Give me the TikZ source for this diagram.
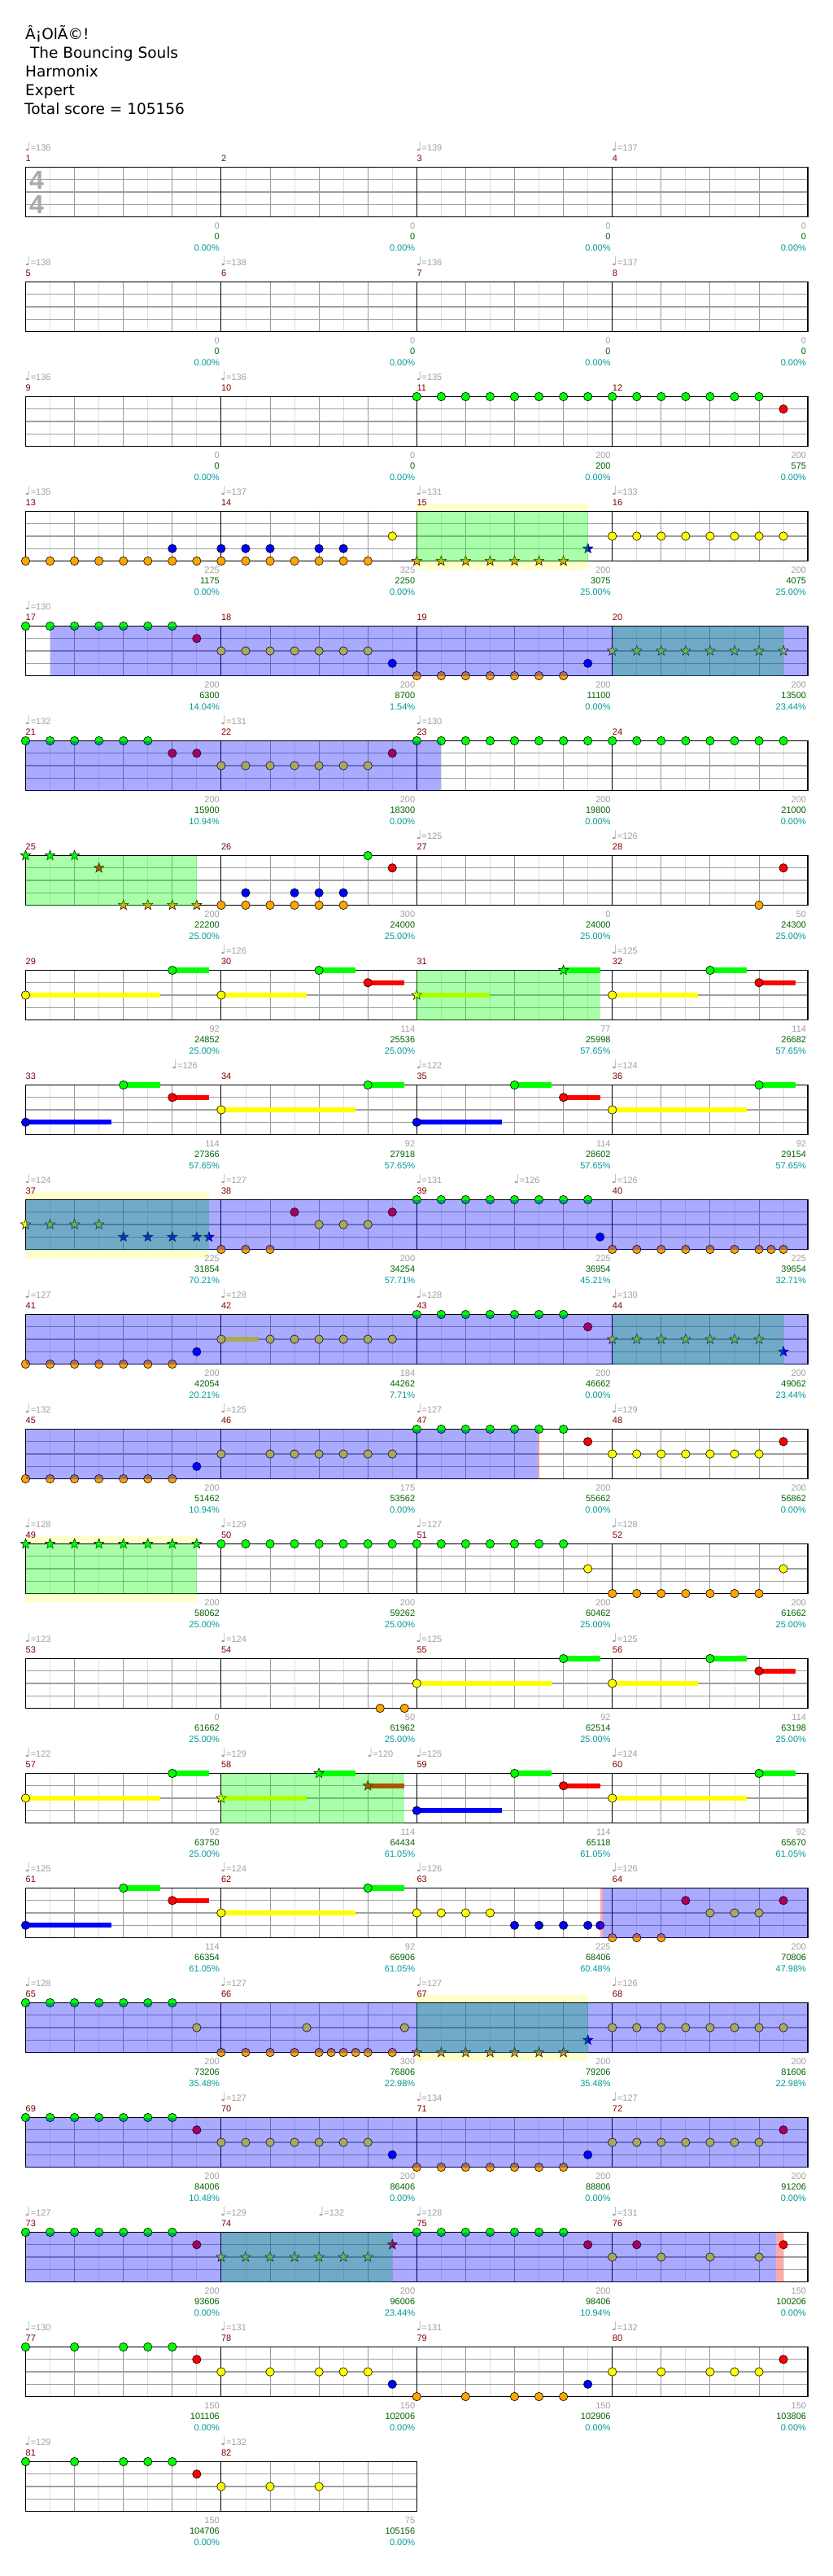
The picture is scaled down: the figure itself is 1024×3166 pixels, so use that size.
\documentclass[tikz,border=0pt]{standalone}
\usepackage{fontspec}
\setmainfont{Liberation Sans}
\newfontfamily\titlefont{DejaVu Sans}
\newfontfamily\notefont{DejaVu Sans}
\usepackage{xcolor}
\definecolor{cG}{HTML}{00FF00}
\definecolor{cR}{HTML}{FF0000}
\definecolor{cY}{HTML}{FFFF00}
\definecolor{cB}{HTML}{0000FF}
\definecolor{cO}{HTML}{FFA500}
\colorlet{lane0}{cG}
\colorlet{lane1}{cR}
\colorlet{lane2}{cY}
\colorlet{lane3}{cB}
\colorlet{lane4}{cO}
\definecolor{cSP}{HTML}{0000FF}
\definecolor{cPh}{HTML}{00FF00}
\definecolor{cEnd}{HTML}{FF0000}
\definecolor{cBand}{HTML}{FFFFCC}
\definecolor{cEighth}{HTML}{DDDDDD}
\definecolor{cBeat}{HTML}{999999}
\definecolor{cLane}{HTML}{A0A0A0}
\definecolor{cSig}{HTML}{AAAAAA}
\definecolor{cTempo}{HTML}{A0A0A0}
\definecolor{cBarNum}{HTML}{800000}
\definecolor{cCount}{HTML}{A0A0A0}
\definecolor{cScore}{HTML}{006400}
\definecolor{cPct}{HTML}{009999}
\usepackage{tikz}
\usetikzlibrary{shapes.geometric}
\tikzset{
  notehead/.style={circle,draw=black,line width=.6pt,inner sep=0pt,minimum size=10.4pt},
  starnote/.style={star,star points=5,star point ratio=2.4,draw=black,line width=.5pt,
    inner sep=0pt,minimum size=13pt},
  grid-eighth/.style={draw=cEighth,line width=.8pt},
  grid-beat/.style={draw=cBeat,line width=.9pt},
  grid-lane/.style={draw=cLane,line width=1.2pt},
  grid-bar/.style={draw=black,line width=.9pt},
  staff-frame/.style={draw=black,line width=1.6pt},
  sp-zone/.style={fill=cSP,fill opacity=.333},
  ph-zone/.style={fill=cPh,fill opacity=.333},
  red-zone/.style={fill=cEnd,fill opacity=.333},
  ph-band/.style={fill=cBand},
  lbl/.style={inner sep=0pt,font=\fontsize{11}{13}\selectfont},
  title-lbl/.style={inner sep=0pt,anchor=base west,font=\titlefont\fontsize{18.5}{23}\selectfont},
  tempo-lbl/.style={lbl,anchor=base west,text=cTempo},
  bar-num/.style={lbl,anchor=base west,text=cBarNum},
  count-lbl/.style={lbl,anchor=base east,text=cCount},
  score-lbl/.style={lbl,anchor=base east,text=cScore},
  pct-lbl/.style={lbl,anchor=base east,text=cPct},
  time-sig/.style={inner sep=0pt,anchor=base west,text=cSig,font=\bfseries\fontsize{32}{32}\selectfont},
}
% row r: staff top; eighth t: x position (one bar = 8 eighths = 240.4)
\newcommand\rowtop[1]{(205.5+(#1-1)*141)}
\newcommand\xe[1]{(31.5+(#1)*30.05)}
\newcommand\drawstaff[2]{%
  \pgfmathsetmacro\Yt{\rowtop{#1}}%
  \pgfmathsetmacro\Xe{\xe{#2*8}}%
  \pgfmathtruncatemacro\Ne{#2*8-1}%
  \pgfmathtruncatemacro\Nb{#2*8-2}%
  \pgfmathtruncatemacro\Nm{#2-1}%
  \fill[white] (31.5,\Yt) rectangle (\Xe,\Yt+61);
  \foreach \e in {1,3,...,\Ne} \draw[grid-eighth] ({\xe{\e}},\Yt) -- ++(0,61);
  \foreach \b in {2,4,...,\Nb} \draw[grid-beat] ({\xe{\b}},\Yt) -- ++(0,61);
  \foreach \l in {1,2,3} \draw[grid-lane] (31.5,{\Yt+\l*15.25}) -- (\Xe,{\Yt+\l*15.25});
  \foreach \mm in {1,...,\Nm} \draw[grid-bar] ({\xe{\mm*8}},\Yt) -- ++(0,61);
  \draw[staff-frame] (31.5,\Yt) rectangle (\Xe,\Yt+61);}
\newcommand\lanenotes[3]{%
  \foreach \t [count=\k] in {#3}
    \node[notehead,fill=lane#2] (n#1-#2-\k) at ({\xe{\t}},{\rowtop{#1}+#2*15.25}) {};}
\newcommand\lanestars[3]{%
  \foreach \t [count=\k] in {#3}
    \node[starnote,fill=lane#2] (s#1-#2-\k) at ({\xe{\t}},{\rowtop{#1}+#2*15.25}) {};}
\newcommand\holdbar[4]{%
  \fill[lane#2] ({\xe{#3}},{\rowtop{#1}+#2*15.25-3.2}) rectangle ({\xe{#4}},{\rowtop{#1}+#2*15.25+3.2});}
\newcommand\spzone[3]{\fill[sp-zone] ({\xe{#2}},{\rowtop{#1}}) rectangle ({\xe{#3}},{\rowtop{#1}+61});}
\newcommand\phzone[3]{\fill[ph-zone] ({\xe{#2}},{\rowtop{#1}}) rectangle ({\xe{#3}},{\rowtop{#1}+61});}
\newcommand\redzone[3]{\fill[red-zone] ({\xe{#2}},{\rowtop{#1}}) rectangle ({\xe{#3}},{\rowtop{#1}+61});}
\newcommand\phband[3]{\fill[ph-band] ({\xe{#2}},{\rowtop{#1}-10}) rectangle ({\xe{#3}},{\rowtop{#1}+71});}

\begin{document}
\begin{tikzpicture}[x=1pt,y=-1pt]
  \useasboundingbox[fill=white] (0,0) rectangle (1024,3166);
  % header
  \node[title-lbl] (ttl-song)   at (31,48.3)  {Â¡OlÃ©!};
  \node[title-lbl] (ttl-band)   at (31,71.7)  {\ The Bouncing Souls};
  \node[title-lbl] (ttl-author) at (31,95)    {Harmonix};
  \node[title-lbl] (ttl-level)  at (31,117.3) {Expert};
  \node[title-lbl] (ttl-score)  at (30,140.7) {Total score = 105156};

  % rows 1-3
  \drawstaff{1}{4}
  \node[time-sig] (sig-top) at (36,{\rowtop{1}+27.2}) {4};
  \node[time-sig] (sig-bot) at (36,{\rowtop{1}+57.2}) {4};
  \drawstaff{2}{4}
  \drawstaff{3}{4}
  \lanenotes{3}{0}{16,...,30}
  \lanenotes{3}{1}{31}

  % row 4
  \phband{4}{16}{23}
  \drawstaff{4}{4}
  \lanenotes{4}{4}{0,...,14}
  \lanenotes{4}{3}{6,8,9,10,12,13}
  \lanenotes{4}{2}{15,24,25,26,27,28,29,30,31}
  \lanestars{4}{4}{16,...,22}
  \lanestars{4}{3}{23}
  \phzone{4}{16}{23}

  % row 5
  \drawstaff{5}{4}
  \lanenotes{5}{0}{0,...,6}
  \lanenotes{5}{1}{7}
  \lanenotes{5}{2}{8,...,14}
  \lanenotes{5}{3}{15,23}
  \lanenotes{5}{4}{16,...,22}
  \lanestars{5}{2}{24,...,31}
  \phzone{5}{24}{31}
  \spzone{5}{1}{32}

  % row 6
  \drawstaff{6}{4}
  \lanenotes{6}{0}{0,1,2,3,4,5,16,17,18,19,20,21,22,23,24,25,26,27,28,29,30,31}
  \lanenotes{6}{1}{6,7,15}
  \lanenotes{6}{2}{8,...,14}
  \spzone{6}{0}{17}

  % row 7
  \drawstaff{7}{4}
  \lanestars{7}{0}{0,1,2}
  \lanestars{7}{1}{3}
  \lanestars{7}{4}{4,5,6,7}
  \lanenotes{7}{4}{8,9,10,11,12,13,30}
  \lanenotes{7}{3}{9,11,12,13}
  \lanenotes{7}{0}{14}
  \lanenotes{7}{1}{15,31}
  \phzone{7}{0}{7}

  % row 8
  \drawstaff{8}{4}
  \holdbar{8}{2}{0}{5.5}   \holdbar{8}{0}{6}{7.5}
  \holdbar{8}{2}{8}{11.5}  \holdbar{8}{0}{12}{13.5}
  \holdbar{8}{1}{14}{15.5} \holdbar{8}{2}{16}{19}
  \holdbar{8}{0}{22}{23.5} \holdbar{8}{2}{24}{27.5}
  \holdbar{8}{0}{28}{29.5} \holdbar{8}{1}{30}{31.5}
  \lanenotes{8}{2}{0,8,24}
  \lanenotes{8}{0}{6,12,28}
  \lanenotes{8}{1}{14,30}
  \lanestars{8}{2}{16}
  \lanestars{8}{0}{22}
  \phzone{8}{16}{23.5}

  % row 9
  \drawstaff{9}{4}
  \holdbar{9}{3}{0}{3.5}   \holdbar{9}{0}{4}{5.5}
  \holdbar{9}{1}{6}{7.5}   \holdbar{9}{2}{8}{13.5}
  \holdbar{9}{0}{14}{15.5} \holdbar{9}{3}{16}{19.5}
  \holdbar{9}{0}{20}{21.5} \holdbar{9}{1}{22}{23.5}
  \holdbar{9}{2}{24}{29.5} \holdbar{9}{0}{30}{31.5}
  \lanenotes{9}{3}{0,16}
  \lanenotes{9}{0}{4,14,20,30}
  \lanenotes{9}{1}{6,22}
  \lanenotes{9}{2}{8,24}

  % row 10
  \phband{10}{0}{7.5}
  \drawstaff{10}{4}
  \lanestars{10}{2}{0,1,2,3}
  \lanestars{10}{3}{4,5,6,7,7.5}
  \lanenotes{10}{4}{8,9,10,24,25,26,27,28,29,30,30.5,31}
  \lanenotes{10}{1}{11,15}
  \lanenotes{10}{2}{12,13,14}
  \lanenotes{10}{0}{16,...,23}
  \lanenotes{10}{3}{23.5}
  \phzone{10}{0}{7.5}
  \spzone{10}{0}{32}

  % row 11
  \drawstaff{11}{4}
  \holdbar{11}{2}{8}{9.5}
  \lanenotes{11}{4}{0,...,6}
  \lanenotes{11}{3}{7}
  \lanenotes{11}{2}{8,10,11,12,13,14,15}
  \lanenotes{11}{0}{16,...,22}
  \lanenotes{11}{1}{23}
  \lanestars{11}{2}{24,...,30}
  \lanestars{11}{3}{31}
  \phzone{11}{24}{31}
  \spzone{11}{0}{32}

  % row 12
  \drawstaff{12}{4}
  \lanenotes{12}{4}{0,...,6}
  \lanenotes{12}{3}{7}
  \lanenotes{12}{2}{8,10,11,12,13,14,15,24,25,26,27,28,29,30}
  \lanenotes{12}{0}{16,...,22}
  \lanenotes{12}{1}{23,31}
  \spzone{12}{0}{20.94}
  \redzone{12}{20.94}{21}

  % row 13
  \phband{13}{0}{7}
  \drawstaff{13}{4}
  \lanestars{13}{0}{0,...,7}
  \lanenotes{13}{0}{8,...,22}
  \lanenotes{13}{2}{23,31}
  \lanenotes{13}{4}{24,...,30}
  \phzone{13}{0}{7}

  % row 14
  \drawstaff{14}{4}
  \holdbar{14}{2}{16}{21.5} \holdbar{14}{0}{22}{23.5}
  \holdbar{14}{2}{24}{27.5} \holdbar{14}{0}{28}{29.5}
  \holdbar{14}{1}{30}{31.5}
  \lanenotes{14}{4}{14.5,15.5}
  \lanenotes{14}{2}{16,24}
  \lanenotes{14}{0}{22,28}
  \lanenotes{14}{1}{30}

  % row 15
  \drawstaff{15}{4}
  \holdbar{15}{2}{0}{5.5}   \holdbar{15}{0}{6}{7.5}
  \holdbar{15}{2}{8}{11.5}  \holdbar{15}{0}{12}{13.5}
  \holdbar{15}{1}{14}{15.5} \holdbar{15}{3}{16}{19.5}
  \holdbar{15}{0}{20}{21.5} \holdbar{15}{1}{22}{23.5}
  \holdbar{15}{2}{24}{29.5} \holdbar{15}{0}{30}{31.5}
  \lanenotes{15}{2}{0,24}
  \lanenotes{15}{0}{6,20,30}
  \lanestars{15}{2}{8}
  \lanestars{15}{0}{12}
  \lanestars{15}{1}{14}
  \lanenotes{15}{3}{16}
  \lanenotes{15}{1}{22}
  \phzone{15}{8}{15.5}

  % row 16
  \drawstaff{16}{4}
  \holdbar{16}{3}{0}{3.5}   \holdbar{16}{0}{4}{5.5}
  \holdbar{16}{1}{6}{7.5}   \holdbar{16}{2}{8}{13.5}
  \holdbar{16}{0}{14}{15.5}
  \lanenotes{16}{3}{0,20,21,22,23,23.5}
  \lanenotes{16}{0}{4,14}
  \lanenotes{16}{1}{6,27,31}
  \lanenotes{16}{2}{8,16,17,18,19,28,29,30}
  \lanenotes{16}{4}{24,25,26}
  \redzone{16}{23.5}{23.62}
  \spzone{16}{23.62}{32}

  % row 17
  \phband{17}{16}{23}
  \drawstaff{17}{4}
  \lanenotes{17}{0}{0,...,6}
  \lanenotes{17}{2}{7,11.5,15.5,24,25,26,27,28,29,30,31}
  \lanenotes{17}{4}{8,9,10,11,12,12.5,13,13.5,14,15}
  \lanestars{17}{4}{16,...,22}
  \lanestars{17}{3}{23}
  \phzone{17}{16}{23}
  \spzone{17}{0}{32}

  % row 18
  \drawstaff{18}{4}
  \lanenotes{18}{0}{0,...,6}
  \lanenotes{18}{1}{7,31}
  \lanenotes{18}{2}{8,9,10,11,12,13,14,24,25,26,27,28,29,30}
  \lanenotes{18}{3}{15,23}
  \lanenotes{18}{4}{16,...,22}
  \spzone{18}{0}{32}

  % row 19
  \drawstaff{19}{4}
  \lanenotes{19}{0}{0,1,2,3,4,5,6,16,17,18,19,20,21,22}
  \lanenotes{19}{1}{7,23,25,31}
  \lanestars{19}{2}{8,...,14}
  \lanestars{19}{1}{15}
  \lanenotes{19}{2}{24,26,28,30}
  \phzone{19}{8}{15}
  \spzone{19}{0}{30.69}
  \redzone{19}{30.69}{31}

  % row 20
  \drawstaff{20}{4}
  \lanenotes{20}{0}{0,2,4,5,6}
  \lanenotes{20}{1}{7,31}
  \lanenotes{20}{2}{8,10,12,13,14,24,26,28,29,30}
  \lanenotes{20}{3}{15,23}
  \lanenotes{20}{4}{16,18,20,21,22}

  % row 21
  \drawstaff{21}{2}
  \lanenotes{21}{0}{0,2,4,5,6}
  \lanenotes{21}{1}{7}
  \lanenotes{21}{2}{8,10,12}

  % tempo marks: row / eighth / bpm
  \foreach \r/\t/\v in {1/0/136,1/16/139,1/24/137, 2/0/138,2/8/138,2/16/136,2/24/137,
      3/0/136,3/8/136,3/16/135, 4/0/135,4/8/137,4/16/131,4/24/133, 5/0/130,
      6/0/132,6/8/131,6/16/130, 7/16/125,7/24/126, 8/8/126,8/24/125,
      9/6/126,9/16/122,9/24/124, 10/0/124,10/8/127,10/16/131,10/20/126,10/24/126,
      11/0/127,11/8/128,11/16/128,11/24/130, 12/0/132,12/8/125,12/16/127,12/24/129,
      13/0/128,13/8/129,13/16/127,13/24/128, 14/0/123,14/8/124,14/16/125,14/24/125,
      15/0/122,15/8/129,15/14/120,15/16/125,15/24/124, 16/0/125,16/8/124,16/16/126,16/24/126,
      17/0/128,17/8/127,17/16/127,17/24/126, 18/8/127,18/16/134,18/24/127,
      19/0/127,19/8/129,19/12/132,19/16/128,19/24/131, 20/0/130,20/8/131,20/16/131,20/24/132,
      21/0/129,21/8/132}
    \node[tempo-lbl] (tp\r-\t) at ({\xe{\t}-1},{\rowtop{\r}-20.5})
      {{\notefont\fontsize{15}{15}\selectfont ♩}=\v};

  % measure numbers and counters: measure / notes / score / percent
  \foreach \m/\g/\s/\p in {1/0/0/0.00,2/0/0/0.00,3/0/0/0.00,4/0/0/0.00,
      5/0/0/0.00,6/0/0/0.00,7/0/0/0.00,8/0/0/0.00,
      9/0/0/0.00,10/0/0/0.00,11/200/200/0.00,12/200/575/0.00,
      13/225/1175/0.00,14/325/2250/0.00,15/200/3075/25.00,16/200/4075/25.00,
      17/200/6300/14.04,18/200/8700/1.54,19/200/11100/0.00,20/200/13500/23.44,
      21/200/15900/10.94,22/200/18300/0.00,23/200/19800/0.00,24/200/21000/0.00,
      25/200/22200/25.00,26/300/24000/25.00,27/0/24000/25.00,28/50/24300/25.00,
      29/92/24852/25.00,30/114/25536/25.00,31/77/25998/57.65,32/114/26682/57.65,
      33/114/27366/57.65,34/92/27918/57.65,35/114/28602/57.65,36/92/29154/57.65,
      37/225/31854/70.21,38/200/34254/57.71,39/225/36954/45.21,40/225/39654/32.71,
      41/200/42054/20.21,42/184/44262/7.71,43/200/46662/0.00,44/200/49062/23.44,
      45/200/51462/10.94,46/175/53562/0.00,47/200/55662/0.00,48/200/56862/0.00,
      49/200/58062/25.00,50/200/59262/25.00,51/200/60462/25.00,52/200/61662/25.00,
      53/0/61662/25.00,54/50/61962/25.00,55/92/62514/25.00,56/114/63198/25.00,
      57/92/63750/25.00,58/114/64434/61.05,59/114/65118/61.05,60/92/65670/61.05,
      61/114/66354/61.05,62/92/66906/61.05,63/225/68406/60.48,64/200/70806/47.98,
      65/200/73206/35.48,66/300/76806/22.98,67/200/79206/35.48,68/200/81606/22.98,
      69/200/84006/10.48,70/200/86406/0.00,71/200/88806/0.00,72/200/91206/0.00,
      73/200/93606/0.00,74/200/96006/23.44,75/200/98406/10.94,76/150/100206/0.00,
      77/150/101106/0.00,78/150/102006/0.00,79/150/102906/0.00,80/150/103806/0.00,
      81/150/104706/0.00,82/75/105156/0.00}{
    \pgfmathtruncatemacro\r{int((\m-1)/4)}
    \pgfmathtruncatemacro\c{mod(\m-1,4)}
    \pgfmathsetmacro\Yt{205.5+\r*141}
    \pgfmathsetmacro\Xl{\xe{\c*8}}
    \node[bar-num]   (bn\m) at (\Xl,\Yt-7.5)          {\m};
    \node[count-lbl] (cn\m) at (\Xl+238.5,\Yt+76.3)   {\g};
    \node[score-lbl] (sc\m) at (\Xl+238.5,\Yt+89.3)   {\s};
    \node[pct-lbl]   (pc\m) at (\Xl+238.5,\Yt+102.8)  {\p\%};
  }
\end{tikzpicture}
\end{document}
